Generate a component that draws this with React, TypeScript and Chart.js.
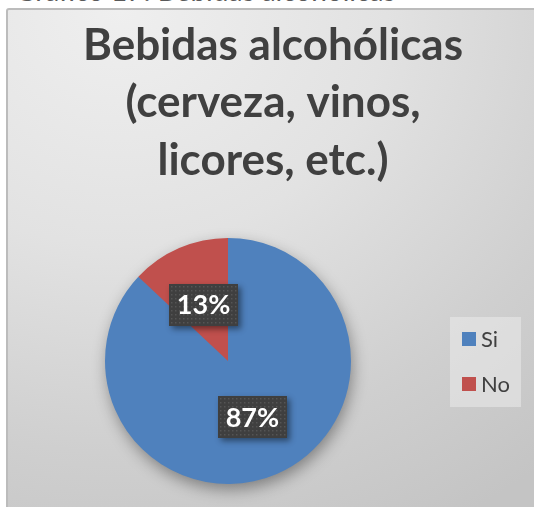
import React, { useEffect, useRef } from "react";
import { Chart, registerables } from "chart.js";
Chart.register(...registerables);

const categories = ["Si", "No"];
const values = [87, 13];
const colors = ["#4F81BD", "#C0504D"];
const titleLines = ["Bebidas alcohólicas", "(cerveza, vinos,", "licores, etc.)"];
const captionText = "Gráfico 17: Bebidas alcohólicas";

const W = 534;
const H = 507;

export default function App() {
  const ref = useRef<HTMLCanvasElement>(null);

  useEffect(() => {
    document.body.style.margin = "0";
    const canvas = ref.current;
    if (!canvas) return;

    const titlePlugin = {
      id: "excelTitle",
      beforeDraw(chart: any) {
        const ctx = chart.ctx;
        ctx.save();
        ctx.font = "bold 44px Lato";
        ctx.fillStyle = "#404040";
        ctx.textAlign = "center";
        ctx.textBaseline = "alphabetic";
        const ys = [60, 117, 175];
        titleLines.forEach((t, i) => ctx.fillText(t, 273, ys[i]));
        ctx.restore();
      },
    };

    const shadowPlugin = {
      id: "pieShadow",
      beforeDatasetsDraw(chart: any) {
        const meta = chart.getDatasetMeta(0);
        const arc = meta.data[0];
        if (!arc) return;
        const { x, y, outerRadius } = arc.getProps(["x", "y", "outerRadius"], true);
        const ctx = chart.ctx;
        ctx.save();
        ctx.shadowColor = "rgba(0,0,0,0.4)";
        ctx.shadowBlur = 16;
        ctx.shadowOffsetX = 2;
        ctx.shadowOffsetY = 6;
        ctx.beginPath();
        ctx.arc(x, y, outerRadius - 1, 0, Math.PI * 2);
        ctx.fillStyle = colors[0];
        ctx.fill();
        ctx.restore();
      },
    };

    const labelPlugin = {
      id: "pctLabels",
      afterDatasetsDraw(chart: any) {
        const ctx = chart.ctx;
        const meta = chart.getDatasetMeta(0);
        const data = chart.data.datasets[0].data as number[];
        const total = data.reduce((a, b) => a + b, 0);
        meta.data.forEach((arc: any, i: number) => {
          const p = arc.tooltipPosition();
          const txt = Math.round((data[i] / total) * 100) + "%";
          ctx.save();
          ctx.font = "bold 27px Lato";
          const tw = ctx.measureText(txt).width;
          const bw = Math.round(tw + 16);
          const bh = 42;
          const bx = Math.round(p.x - bw / 2);
          const by = Math.round(p.y - bh / 2);
          ctx.save();
          ctx.shadowColor = "rgba(0,0,0,0.45)";
          ctx.shadowBlur = 6;
          ctx.shadowOffsetX = 3;
          ctx.shadowOffsetY = 3;
          ctx.fillStyle = "#3f3f3f";
          ctx.fillRect(bx, by, bw, bh);
          ctx.restore();
          ctx.fillStyle = "#555555";
          for (let yy = by + 2; yy < by + bh - 1; yy += 4) {
            for (let xx = bx + 2; xx < bx + bw - 1; xx += 4) {
              ctx.fillRect(xx, yy, 1.5, 1.5);
            }
          }
          ctx.fillStyle = "#ffffff";
          ctx.textAlign = "center";
          ctx.textBaseline = "middle";
          ctx.fillText(txt, p.x, p.y + 1);
          ctx.restore();
        });
      },
    };

    const legendPlugin = {
      id: "excelLegend",
      afterDraw(chart: any) {
        const ctx = chart.ctx;
        ctx.save();
        ctx.fillStyle = "rgba(235,235,235,0.55)";
        ctx.fillRect(450, 317, 71, 90);
        ctx.font = "22px Lato";
        ctx.textBaseline = "middle";
        ctx.textAlign = "left";
        categories.forEach((c, i) => {
          const cy = 339 + i * 45;
          ctx.fillStyle = colors[i];
          ctx.fillRect(462, cy - 7, 14, 14);
          ctx.fillStyle = "#404040";
          ctx.fillText(c, 481, cy + 1);
        });
        ctx.restore();
      },
    };

    const chart = new Chart(canvas, {
      type: "pie",
      data: {
        labels: categories,
        datasets: [
          {
            data: values,
            backgroundColor: colors,
            borderWidth: 0,
          },
        ],
      },
      options: {
        animation: false,
        responsive: false,
        devicePixelRatio: 1,
        layout: { padding: { left: 105, right: 183, top: 238, bottom: 23 } },
        plugins: {
          legend: { display: false },
          tooltip: { enabled: false },
          title: { display: false },
        },
      },
      plugins: [titlePlugin, shadowPlugin, labelPlugin, legendPlugin],
    });
    return () => chart.destroy();
  }, []);

  return (
    <div style={{ position: "fixed", left: 0, top: 0, width: W, height: H, overflow: "hidden", background: "#ffffff" }}>
      <div
        style={{
          position: "absolute",
          left: 15,
          top: -24,
          fontFamily: "Lato, sans-serif",
          fontSize: 28,
          lineHeight: "28px",
          color: "#595959",
          whiteSpace: "nowrap",
        }}
      >
        {captionText}
      </div>
      <div
        style={{
          position: "absolute",
          left: 6,
          top: 8,
          width: 560,
          height: 540,
          boxSizing: "border-box",
          border: "2px solid #bcbcbc",
          borderRadius: 3,
          background: "radial-gradient(ellipse 120% 110% at 20% 0%, #efefef 0%, #e2e2e2 40%, #cfcfcf 75%, #c4c4c4 100%)",
        }}
      />
      <canvas ref={ref} width={W} height={H} style={{ position: "absolute", left: 0, top: 0 }} />
    </div>
  );
}
